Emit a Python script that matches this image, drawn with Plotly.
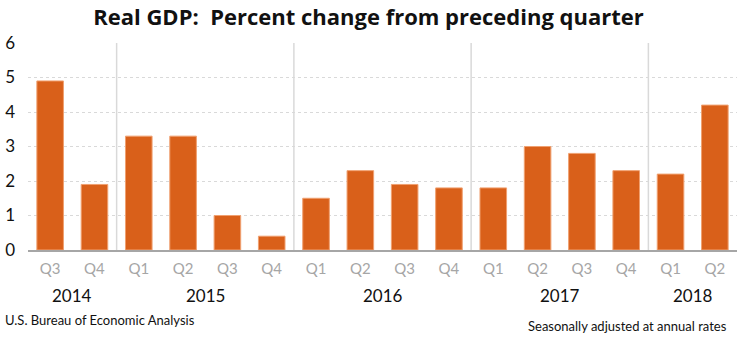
import plotly.graph_objects as go

quarters = ["Q3", "Q4", "Q1", "Q2", "Q3", "Q4", "Q1", "Q2", "Q3", "Q4", "Q1", "Q2", "Q3", "Q4", "Q1", "Q2"]
values = [4.9, 1.9, 3.3, 3.3, 1.0, 0.4, 1.5, 2.3, 1.9, 1.8, 1.8, 3.0, 2.8, 2.3, 2.2, 4.2]
years = ["2014", "2015", "2016", "2017", "2018"]
year_counts = [2, 4, 4, 4, 2]
y_ticks = [0, 1, 2, 3, 4, 5, 6]

idx = list(range(len(values)))
BAR = "#D9601A"
FONT = "Lato, 'Open Sans', sans-serif"

fig = go.Figure(go.Bar(
    x=idx, y=values,
    marker=dict(color=BAR, line=dict(color="#F0A070", width=1)),
    width=0.6,
))

shapes = []
annotations = []
start = 0
for i, (yr, n) in enumerate(zip(years, year_counts)):
    center = start + (n - 1) / 2
    annotations.append(dict(x=center, y=0, xref="x", yref="paper", text=yr,
                            showarrow=False, font=dict(size=17, color="#111111", family=FONT),
                            xanchor="center", yanchor="middle", yshift=-45))
    if i > 0:
        shapes.append(dict(type="line", xref="x", yref="y", x0=start - 0.5, x1=start - 0.5,
                           y0=-0.05, y1=6, line=dict(color="#D9D9D9", width=1.5), layer="below"))
    start += n

annotations.append(dict(x=0, y=0, xref="paper", yref="paper", text="U.S. Bureau of Economic Analysis",
                        showarrow=False, font=dict(size=13, color="#111111", family=FONT),
                        xanchor="left", yanchor="middle", xshift=-25, yshift=-(320 - 250)))
annotations.append(dict(x=1, y=0, xref="paper", yref="paper", text="Seasonally adjusted at annual rates",
                        showarrow=False, font=dict(size=13, color="#111111", family=FONT),
                        xanchor="right", yanchor="middle", xshift=-8, yshift=-(326 - 250)))

fig.update_layout(
    width=737, height=338,
    margin=dict(l=28, r=0, t=43, b=88),
    plot_bgcolor="white", paper_bgcolor="white",
    showlegend=False,
    title=dict(text="<b>Real GDP:  Percent change from preceding quarter</b>",
               x=0.5, xanchor="center", y=1 - 17 / 338, yanchor="middle",
               font=dict(size=22, color="#111111", family="'Open Sans', sans-serif")),
    xaxis=dict(range=[-0.5, 15.5], tickvals=idx, ticktext=quarters, showgrid=False,
               tickfont=dict(size=15, color="#A6A6A6", family=FONT),
               showline=True, linecolor="#A6A6A6", linewidth=1.5, ticks="", zeroline=False,
               ticklabelstandoff=4),
    yaxis=dict(range=[0, 6], tickvals=y_ticks, showgrid=True, gridcolor="#D9D9D9", griddash="dot",
               tickfont=dict(size=17, color="#111111", family=FONT), zeroline=False,
               ticklabelstandoff=12, ticks=""),
    shapes=shapes,
    annotations=annotations,
    bargap=0.4,
)

fig.write_html("out.html")
